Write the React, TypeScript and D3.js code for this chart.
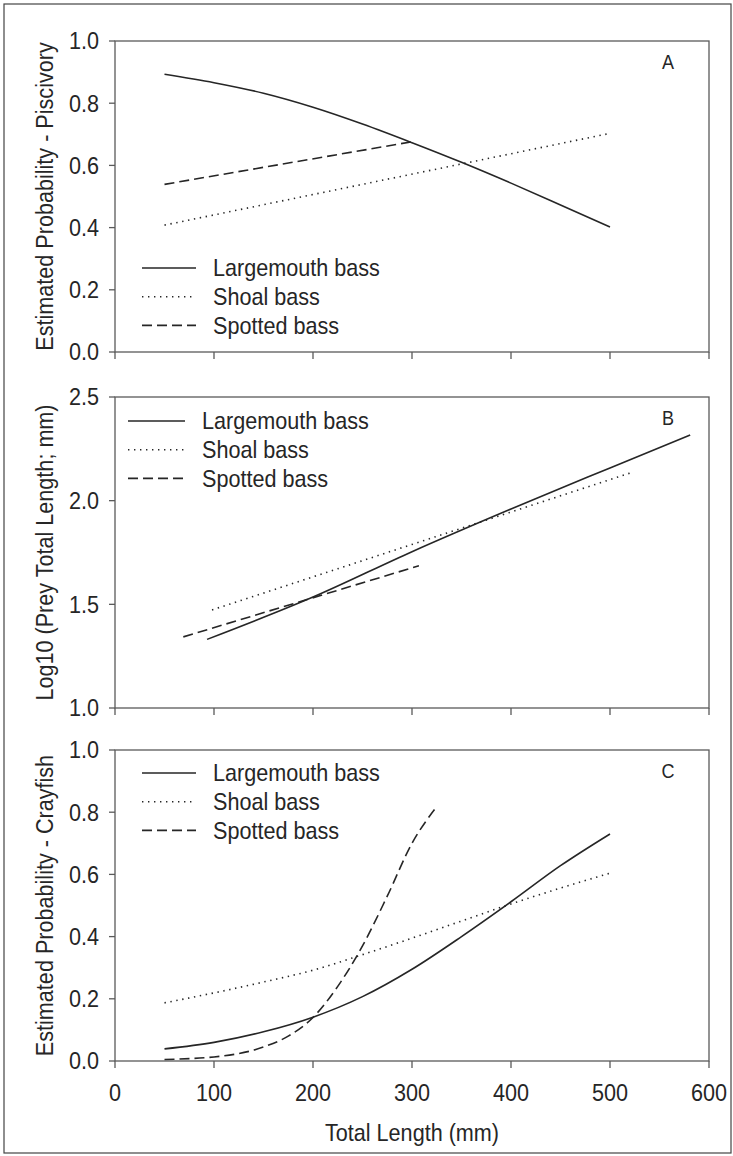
import * as d3 from "d3";
import type { ReactNode } from "react";

// axis ticks
const xTicks = [0, 100, 200, 300, 400, 500, 600];
const probTicks = [0, 0.2, 0.4, 0.6, 0.8, 1.0];
const logTicks = [1.0, 1.5, 2.0, 2.5];
const species = ["Largemouth bass", "Shoal bass", "Spotted bass"];

// A - piscivory
const piscivoryLargemouth: [number, number][] = [
  [50, 0.893], [100, 0.866], [150, 0.832], [200, 0.787], [250, 0.733],
  [300, 0.673], [350, 0.61], [400, 0.543], [450, 0.473], [500, 0.402],
];
const piscivoryShoal: [number, number][] = [[50, 0.408], [500, 0.703]];
const piscivorySpotted: [number, number][] = [[50, 0.539], [300, 0.676]];

// B - log10 prey length
const preyLargemouth: [number, number][] = [
  [93, 1.331], [200, 1.535], [300, 1.754], [400, 1.96], [500, 2.158], [581, 2.317],
];
const preyShoal: [number, number][] = [[98, 1.473], [522, 2.136]];
const preySpotted: [number, number][] = [[69, 1.343], [307, 1.686]];

// C - crayfish
const crayLargemouth: [number, number][] = [
  [50, 0.039], [100, 0.06], [150, 0.094], [200, 0.141], [250, 0.207],
  [300, 0.295], [350, 0.4], [400, 0.512], [450, 0.628], [500, 0.73],
];
const crayShoal: [number, number][] = [
  [50, 0.187], [100, 0.219], [150, 0.254], [200, 0.292], [250, 0.342],
  [300, 0.395], [350, 0.45], [400, 0.505], [450, 0.556], [500, 0.604],
];
const craySpotted: [number, number][] = [
  [50, 0.005], [100, 0.013], [150, 0.045], [175, 0.08], [200, 0.14],
  [225, 0.24], [250, 0.37], [275, 0.53], [300, 0.7], [325, 0.818],
];

const W = 733;
const H = 1156;
const left = 115;
const right = 709;
const font = "'Liberation Sans', Arial, Helvetica, sans-serif";
const ink = "#262626";
const axisColor = "#5a5a5a";
const dashes = ["none", "1.4,4.6", "10,5"];

const x = d3.scaleLinear().domain([0, 600]).range([left, right]);

// narrow-ish text, like the original's condensed sans
function T({
  x: tx, y: ty, size = 24, anchor = "start", rotate = 0, children,
}: {
  x: number; y: number; size?: number; anchor?: string; rotate?: number; children: ReactNode;
}) {
  return (
    <text
      transform={`translate(${tx},${ty}) rotate(${rotate}) scale(0.9,1)`}
      textAnchor={anchor}
      dominantBaseline="central"
      fontSize={size}
      fill={ink}
    >
      {children}
    </text>
  );
}

type Panel = {
  top: number;
  bottom: number;
  domain: [number, number];
  ticks: number[];
  title: string;
  letter: string;
  series: [number, number][][];
  legendX: number;
  legendY: number;
  showX: boolean;
};

const panels: Panel[] = [
  {
    top: 41, bottom: 352, domain: [0, 1], ticks: probTicks,
    title: "Estimated Probability - Piscivory", letter: "A",
    series: [piscivoryLargemouth, piscivoryShoal, piscivorySpotted],
    legendX: 142, legendY: 268, showX: false,
  },
  {
    top: 397, bottom: 708, domain: [1, 2.5], ticks: logTicks,
    title: "Log10 (Prey Total Length; mm)", letter: "B",
    series: [preyLargemouth, preyShoal, preySpotted],
    legendX: 128, legendY: 421, showX: false,
  },
  {
    top: 750, bottom: 1061, domain: [0, 1], ticks: probTicks,
    title: "Estimated Probability - Crayfish", letter: "C",
    series: [crayLargemouth, crayShoal, craySpotted],
    legendX: 142, legendY: 773, showX: true,
  },
];

function PanelView({ p }: { p: Panel }) {
  const y = d3.scaleLinear().domain(p.domain).range([p.bottom, p.top]);
  const line = d3
    .line<[number, number]>()
    .x((d) => x(d[0]))
    .y((d) => y(d[1]))
    .curve(d3.curveMonotoneX);
  const legendW = p.letter === "B" ? 57 : 54;
  const mid = (p.top + p.bottom) / 2;

  return (
    <g>
      <rect
        x={left}
        y={p.top}
        width={right - left}
        height={p.bottom - p.top}
        fill="none"
        stroke={axisColor}
        strokeWidth={1.3}
      />
      {p.ticks.map((t) => (
        <g key={"y" + t}>
          <line x1={left - 6} x2={left} y1={y(t)} y2={y(t)} stroke={axisColor} strokeWidth={1.3} />
          <T x={99} y={y(t)} anchor="end">
            {d3.format(".1f")(t)}
          </T>
        </g>
      ))}
      {xTicks.map((t) => (
        <g key={"x" + t}>
          <line x1={x(t)} x2={x(t)} y1={p.bottom} y2={p.bottom + 7} stroke={axisColor} strokeWidth={1.3} />
          {p.showX && (
            <T x={x(t)} y={p.bottom + 32} anchor="middle">
              {t}
            </T>
          )}
        </g>
      ))}
      <T x={45} y={mid} anchor="middle" rotate={-90}>
        {p.title}
      </T>
      <T x={668} y={p.top + 21} anchor="middle" size={20}>
        {p.letter}
      </T>
      {p.series.map((s, i) => (
        <path
          key={"s" + i}
          d={line(s) ?? ""}
          fill="none"
          stroke={ink}
          strokeWidth={1.6}
          strokeDasharray={dashes[i]}
        />
      ))}
      {species.map((name, i) => {
        const ly = p.legendY + i * 28.7;
        return (
          <g key={name}>
            <line
              x1={p.legendX}
              x2={p.legendX + legendW}
              y1={ly}
              y2={ly}
              stroke={ink}
              strokeWidth={1.6}
              strokeDasharray={dashes[i]}
            />
            <T x={p.legendX + legendW + 17} y={ly}>
              {name}
            </T>
          </g>
        );
      })}
    </g>
  );
}

export default function App() {
  return (
    <svg
      width={W}
      height={H}
      style={{ position: "absolute", left: 0, top: 0, background: "#fff" }}
      fontFamily={font}
    >
      <rect x={4} y={4} width={727} height={1149} fill="none" stroke="#444" strokeWidth={1.2} />
      {panels.map((p) => (
        <PanelView key={p.letter} p={p} />
      ))}
      <T x={(left + right) / 2} y={1133} anchor="middle">
        Total Length (mm)
      </T>
    </svg>
  );
}
